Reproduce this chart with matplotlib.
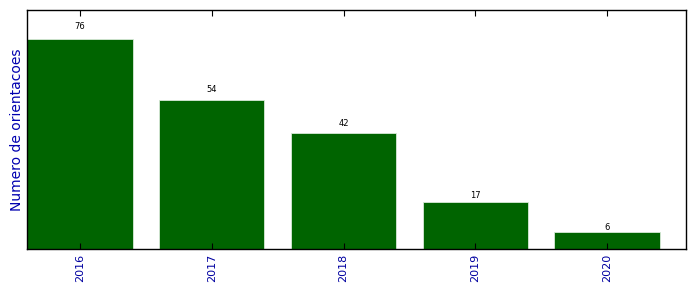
import matplotlib
matplotlib.use('Agg')
import matplotlib.pyplot as plt
import numpy as np

# Data
anos = ['2016', '2017', '2018', '2019', '2020']
orientacoes = [76, 54, 42, 17, 6]

fig, ax = plt.subplots(figsize=(6.96, 2.92), dpi=100)
fig.subplots_adjust(left=0.039, right=0.986, top=0.966, bottom=0.147)

pos = np.arange(len(anos))
barras = ax.bar(pos, orientacoes, width=0.8, color='darkgreen', edgecolor='#d8ead8', linewidth=0.6)

# value above each bar
for b, v in zip(barras, orientacoes):
    ax.text(b.get_x() + b.get_width() / 2, v * 1.04, str(v),
            ha='center', va='bottom', fontsize=6)

ax.set_xlim(-0.4, 4.6)
ax.set_ylim(0, 86.5)
ax.set_xticks(pos)
ax.set_xticklabels(anos, rotation=90, color='#0000a0', fontsize=8)
ax.set_yticks([])
ax.tick_params(axis='x', direction='in', top=True, length=4, width=0.8)
ax.set_ylabel('Numero de orientacoes', color='#0000b0', fontsize=10, labelpad=2)
for s in ax.spines.values():
    s.set_linewidth(1.0)

plt.savefig('out.png', dpi=100)
